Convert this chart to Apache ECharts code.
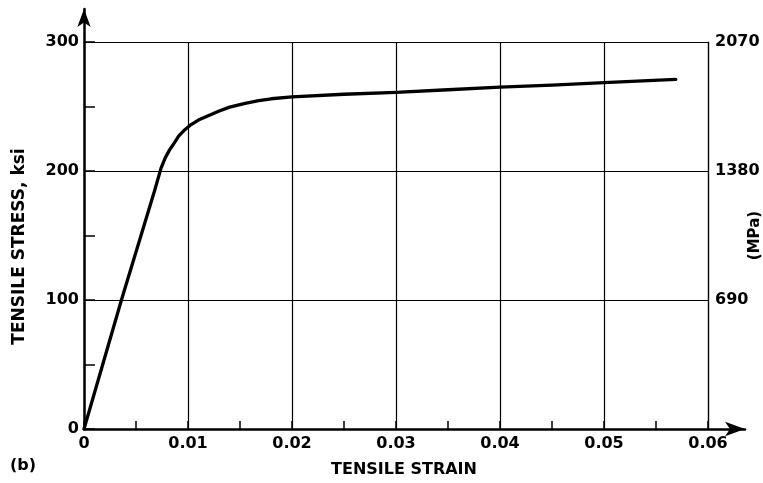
<!DOCTYPE html>
<html>
<head>
<meta charset="utf-8">
<script src="https://cdn.jsdelivr.net/npm/echarts@6/dist/echarts.min.js"></script>
<style>
html,body{margin:0;padding:0;background:#fff;}
#chart{width:763px;height:483px;}
</style>
</head>
<body>
<div id="chart"></div>
<script>
// Data
var strain = [0, 0.0036, 0.0068, 0.0074, 0.0078, 0.0082, 0.0087, 0.0091, 0.0097, 0.0103, 0.011, 0.012, 0.013, 0.014, 0.0155, 0.0168, 0.018, 0.02, 0.025, 0.03, 0.035, 0.04, 0.045, 0.05, 0.0569];
var stress = [0, 100, 185, 202, 210, 216, 222, 227, 232, 236, 239.5, 243, 246.5, 249.5, 252.5, 254.5, 256, 257.5, 259.5, 261, 263, 265, 266.5, 268.5, 271];
var ksiTicks = [0, 100, 200, 300];
var mpaTicks = [0, 690, 1380, 2070];
var strainTicks = ['0', '0.01', '0.02', '0.03', '0.04', '0.05', '0.06'];

var FONT = 'DejaVu Sans';
var chart = echarts.init(document.getElementById('chart'), null, {renderer: 'canvas'});
var points = strain.map(function (s, i) { return [s, stress[i]]; });

var option = {
  backgroundColor: '#fff',
  animation: false,
  title: {
    text: '(b)', left: 5, top: 453,
    textStyle: {fontFamily: FONT, fontWeight: 'bold', fontSize: 16, color: '#000'}
  },
  grid: [
    {left: 84, right: 55, top: 42, bottom: 54, outerBoundsMode: 'none', containLabel: false},
    {left: 84, right: 18, top: 9, bottom: 54, outerBoundsMode: 'none', containLabel: false}
  ],
  xAxis: [
    {
      gridIndex: 0, type: 'value', min: 0, max: 0.06, interval: 0.01,
      name: 'TENSILE STRAIN', nameLocation: 'middle', nameGap: 33, nameMoveOverlap: false,
      nameTextStyle: {fontFamily: FONT, fontWeight: 'bold', fontSize: 16, color: '#000', padding: [0, 0, 0, 16]},
      axisLine: {show: false},
      axisTick: {show: true, inside: true, length: 8, lineStyle: {color: '#000', width: 1.5}},
      minorTick: {show: true, splitNumber: 2, length: 8, lineStyle: {color: '#000', width: 1.5}},
      splitLine: {show: true, lineStyle: {color: '#000', width: 1.2}},
      axisLabel: {
        margin: 7, fontFamily: FONT, fontWeight: 'bold', fontSize: 16, color: '#000',
        formatter: function (v) { return strainTicks[Math.round(v * 100)]; }
      }
    },
    {
      gridIndex: 1, type: 'value', min: 0, max: 1, position: 'bottom',
      axisLine: {show: true, onZero: false, symbol: ['none', 'arrow'], symbolSize: [11, 20], lineStyle: {color: '#000', width: 2.5}},
      axisTick: {show: false}, axisLabel: {show: false}, splitLine: {show: false}
    }
  ],
  yAxis: [
    {
      gridIndex: 0, type: 'value', min: ksiTicks[0], max: ksiTicks[3], interval: 100, position: 'left',
      name: 'TENSILE STRESS, ksi', nameLocation: 'middle', nameGap: 56, nameRotate: 90, nameMoveOverlap: false,
      nameTextStyle: {fontFamily: FONT, fontWeight: 'bold', fontSize: 17, color: '#000', padding: [0, 22, 0, 0]},
      axisLine: {show: false},
      axisTick: {show: true, inside: true, length: 11, lineStyle: {color: '#000', width: 1.5}},
      minorTick: {show: true, splitNumber: 2, length: 11, lineStyle: {color: '#000', width: 1.5}},
      splitLine: {show: true, lineStyle: {color: '#000', width: 1.2}},
      axisLabel: {margin: 5, fontFamily: FONT, fontWeight: 'bold', fontSize: 16, color: '#000'}
    },
    {
      gridIndex: 0, type: 'value', min: mpaTicks[0], max: mpaTicks[3], interval: 690, position: 'right',
      name: '(MPa)', nameLocation: 'middle', nameGap: 40, nameRotate: 90, nameMoveOverlap: false,
      nameTextStyle: {fontFamily: FONT, fontWeight: 'bold', fontSize: 15, color: '#000'},
      axisLine: {show: true, lineStyle: {color: '#000', width: 1.2}},
      axisTick: {show: false},
      splitLine: {show: false},
      axisLabel: {
        margin: 7, fontFamily: FONT, fontWeight: 'bold', fontSize: 16, color: '#000',
        formatter: function (v) { return v === 0 ? '' : String(v); }
      }
    },
    {
      gridIndex: 1, type: 'value', min: 0, max: 1, position: 'left',
      axisLine: {show: true, onZero: false, symbol: ['none', 'arrow'], symbolSize: [10, 18], lineStyle: {color: '#000', width: 2.5}},
      axisTick: {show: false}, axisLabel: {show: false}, splitLine: {show: false}
    }
  ],
  series: [{
    type: 'line', xAxisIndex: 0, yAxisIndex: 0,
    data: points, showSymbol: false, symbol: 'none',
    smooth: false,
    lineStyle: {color: '#000', width: 3.3, join: 'round', cap: 'round'},
    z: 5
  }]
};
chart.setOption(option);
</script>
</body>
</html>
